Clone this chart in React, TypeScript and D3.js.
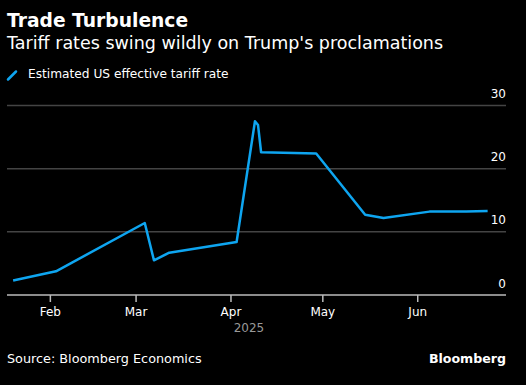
import { useEffect, useRef } from "react";
import * as d3 from "d3";

const dates = [
  "2025-01-20", "2025-02-03", "2025-03-04", "2025-03-07", "2025-03-12",
  "2025-04-03", "2025-04-09", "2025-04-10", "2025-04-11", "2025-04-29",
  "2025-05-15", "2025-05-21", "2025-06-05", "2025-06-17", "2025-06-24",
];
const tariffRate = [
  2.3, 3.75, 11.4, 5.5, 6.7,
  8.4, 27.5, 26.9, 22.6, 22.4,
  12.7, 12.2, 13.2, 13.2, 13.3,
];
const yTicks = [0, 10, 20, 30];
const monthTicks = ["2025-02-01", "2025-03-01", "2025-04-01", "2025-05-01", "2025-06-01"];

const W = 526;
const H = 385;
const FONT = "'DejaVu Sans', sans-serif";
const BLUE = "#0ea5f0";

export default function App() {
  const svgRef = useRef<SVGSVGElement>(null);

  useEffect(() => {
    if (!svgRef.current) return;
    const svg = d3.select(svgRef.current);
    svg.selectAll("*").remove();

    const parse = d3.utcParse("%Y-%m-%d");
    const data = dates.map((d, i) => ({ date: parse(d)!, value: tariffRate[i] }));

    const x = d3
      .scaleUtc()
      .domain([parse("2025-01-18")!, parse("2025-06-30")!])
      .range([7, 506]);
    const y = d3.scaleLinear().domain([0, 30]).range([295, 105.5]);

    svg.append("rect").attr("width", W).attr("height", H).attr("fill", "#000");

    // Titles
    svg.append("text")
      .attr("x", 7).attr("y", 26.5)
      .attr("fill", "#fff").attr("font-family", FONT)
      .attr("font-weight", "bold").attr("font-size", 18.7)
      .text("Trade Turbulence");
    svg.append("text")
      .attr("x", 7).attr("y", 49)
      .attr("fill", "#fff").attr("font-family", FONT)
      .attr("font-size", 17.5)
      .text("Tariff rates swing wildly on Trump's proclamations");

    // Legend
    svg.append("line")
      .attr("x1", 8).attr("y1", 79.5).attr("x2", 16).attr("y2", 71.5)
      .attr("stroke", BLUE).attr("stroke-width", 2.5).attr("stroke-linecap", "round");
    svg.append("text")
      .attr("x", 28).attr("y", 78)
      .attr("fill", "#fff").attr("font-family", FONT).attr("font-size", 12.2)
      .text("Estimated US effective tariff rate");

    // Gridlines + y labels
    const grid = svg.append("g");
    grid.selectAll("line")
      .data(yTicks.filter((t) => t > 0))
      .join("line")
      .attr("x1", 7).attr("x2", 506)
      .attr("y1", (d) => y(d)).attr("y2", (d) => y(d))
      .attr("stroke", "#444").attr("stroke-width", 1.5);
    grid.selectAll("text")
      .data(yTicks)
      .join("text")
      .attr("x", 506).attr("y", (d) => y(d) - 7.5)
      .attr("text-anchor", "end")
      .attr("fill", "#fff").attr("font-family", FONT).attr("font-size", 12)
      .text((d) => d);

    // X axis
    const xAxis = d3
      .axisBottom(x)
      .tickValues(monthTicks.map((m) => parse(m)!))
      .tickFormat((d) => d3.utcFormat("%b")(d as Date))
      .tickSize(7)
      .tickPadding(5);
    const ax = svg.append("g").attr("transform", "translate(0,295)").call(xAxis);
    ax.select(".domain").attr("stroke", "#bbb").attr("stroke-width", 1.5).attr("d", "M7,0H506");
    ax.selectAll(".tick line").attr("stroke", "#bbb").attr("stroke-width", 1.5);
    ax.selectAll(".tick text")
      .attr("fill", "#fff").attr("font-family", FONT).attr("font-size", 12);

    svg.append("text")
      .attr("x", 249).attr("y", 331.5)
      .attr("text-anchor", "middle")
      .attr("fill", "#999").attr("font-family", FONT).attr("font-size", 12)
      .text("2025");

    // Line
    const line = d3
      .line<{ date: Date; value: number }>()
      .x((d) => x(d.date))
      .y((d) => y(d.value));
    svg.append("path")
      .datum(data)
      .attr("d", line)
      .attr("fill", "none")
      .attr("stroke", BLUE)
      .attr("stroke-width", 2.5)
      .attr("stroke-linejoin", "round");

    // Footer
    svg.append("text")
      .attr("x", 7).attr("y", 362.5)
      .attr("fill", "#fff").attr("font-family", FONT).attr("font-size", 12.8)
      .text("Source: Bloomberg Economics");
    svg.append("text")
      .attr("x", 506).attr("y", 362.5)
      .attr("text-anchor", "end")
      .attr("fill", "#fff").attr("font-family", FONT)
      .attr("font-weight", "bold").attr("font-size", 12.6)
      .text("Bloomberg");
  }, []);

  return (
    <div style={{ position: "fixed", left: 0, top: 0, width: W, height: H, background: "#000" }}>
      <svg ref={svgRef} width={W} height={H} style={{ display: "block" }} />
    </div>
  );
}
